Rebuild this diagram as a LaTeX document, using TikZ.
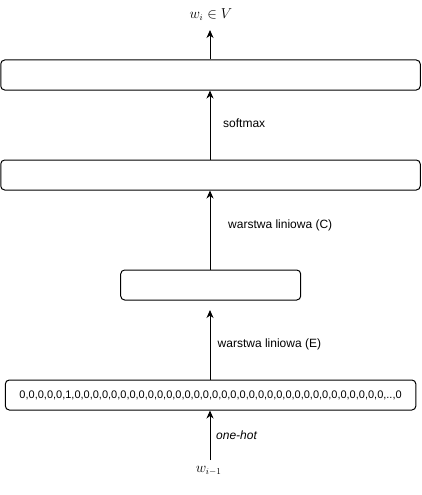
\documentclass[tikz,border=0pt]{standalone}
\usepackage{fontspec}
\setmainfont{Liberation Sans}
\usetikzlibrary{arrows.meta}
\begin{document}
\begin{tikzpicture}[x=1pt,y=1pt,
  layerbox/.style={draw, line width=1pt, rounded corners=4pt, minimum height=30pt, inner sep=0pt},
  conn/.style={line width=1pt, -{Stealth[length=8pt,width=7pt,inset=2.5pt]}},
  lbl/.style={anchor=west, inner sep=0pt, font=\fontsize{12}{14}\selectfont},
  mathlbl/.style={inner sep=0pt, font=\fontsize{13.5}{16}\selectfont}]
\useasboundingbox (0,0) rectangle (421,-495);
\node[layerbox, minimum width=419.5pt] (top) at (210.5,-75) {};
\node[layerbox, minimum width=419.5pt] (mid) at (210.5,-175) {};
\node[layerbox, minimum width=180pt] (hid) at (210.7,-285) {};
\node[layerbox, minimum width=410.5pt] (inp) at (210.6,-395) {\fontsize{11}{13}\selectfont 0,0,0,0,0,1,0,0,0,0,0,0,0,0,0,0,0,0,0,0,0,0,0,0,0,0,0,0,0,0,0,0,0,0,0,0,0,0,0,0,..,0};
\node[mathlbl] (wout) at (211,-15) {$w_i \in V$};
\node[mathlbl] (win) at (208.7,-470.5) {$w_{i-1}$};
\coordinate (winTop) at (210,-460);
\coordinate (hidTip) at (210,-310);
\coordinate (outTip) at (210,-30);
\draw[conn] (winTop) -- (inp.south -| winTop);
\draw[conn] (inp.north -| winTop) -- (hidTip);
\draw[conn] (hid.north -| winTop) -- (mid.south -| winTop);
\draw[conn] (mid.north -| winTop) -- (top.south -| winTop);
\draw[conn] (top.north -| winTop) -- (outTip);
\node[lbl] (lsoft) at (223,-123.5) {softmax};
\node[lbl] (lC) at (228,-225) {warstwa liniowa (C)};
\node[lbl] (lE) at (217.5,-344) {warstwa liniowa (E)};
\node[lbl] (lone) at (216,-435.5) {\itshape one-hot};
\end{tikzpicture}
\end{document}
